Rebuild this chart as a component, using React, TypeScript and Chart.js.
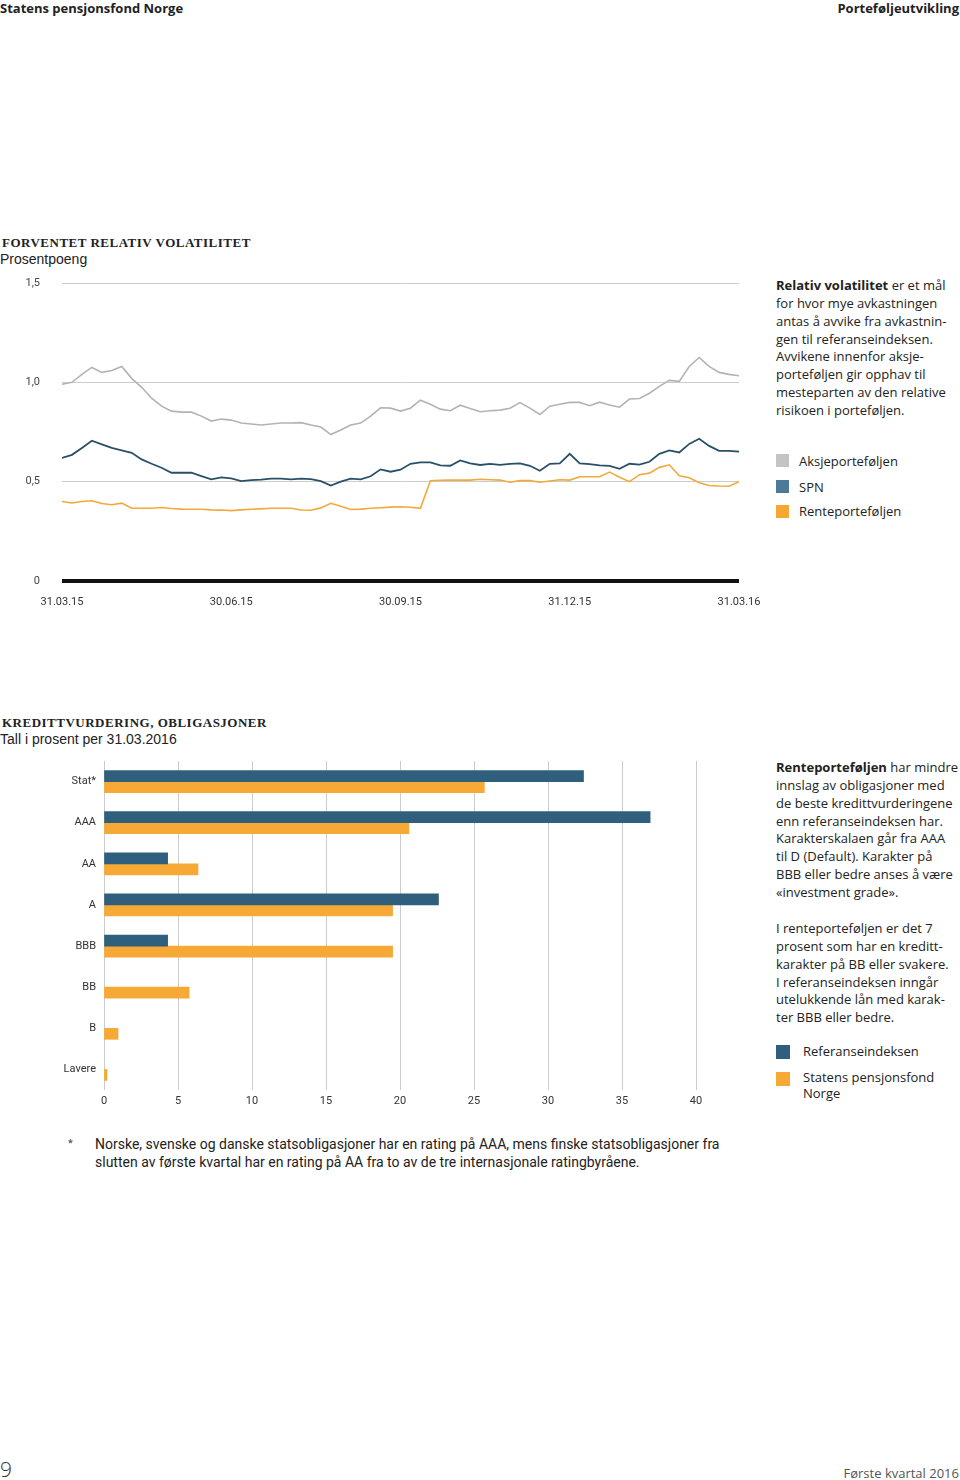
import React, { useEffect, useRef } from 'react';
import { Chart, registerables } from 'chart.js';

Chart.register(...registerables);

// ---------- Data: expected relative volatility (percentage points) ----------
const aksjeValues = [
  0.99, 1.0, 1.04, 1.075, 1.05, 1.06, 1.08, 1.02, 0.975, 0.92,
  0.88, 0.855, 0.85, 0.85, 0.83, 0.805, 0.815, 0.81, 0.795, 0.79,
  0.785, 0.79, 0.795, 0.795, 0.797, 0.785, 0.775, 0.737, 0.76, 0.785,
  0.795, 0.83, 0.872, 0.87, 0.855, 0.87, 0.91, 0.89, 0.865, 0.857,
  0.885, 0.868, 0.852, 0.857, 0.86, 0.87, 0.898, 0.87, 0.838, 0.88,
  0.89, 0.899, 0.899, 0.882, 0.9, 0.886, 0.875, 0.916, 0.919, 0.945,
  0.98, 1.01, 1.005, 1.08, 1.125, 1.08, 1.05, 1.04, 1.033,
];
const spnValues = [
  0.62, 0.635, 0.67, 0.706, 0.688, 0.67, 0.658, 0.645, 0.612, 0.59,
  0.57, 0.545, 0.545, 0.545, 0.528, 0.512, 0.522, 0.517, 0.503, 0.508,
  0.51, 0.515, 0.515, 0.512, 0.515, 0.513, 0.503, 0.48, 0.5, 0.515,
  0.512, 0.527, 0.562, 0.55, 0.56, 0.59, 0.597, 0.597, 0.582, 0.58,
  0.607, 0.592, 0.584, 0.59, 0.585, 0.59, 0.592, 0.58, 0.555, 0.59,
  0.592, 0.64, 0.592, 0.588, 0.582, 0.58, 0.565, 0.59, 0.586, 0.6,
  0.64, 0.657, 0.647, 0.69, 0.716, 0.68, 0.655, 0.655, 0.651,
];
const renteValues = [
  0.4, 0.393, 0.4, 0.404, 0.39, 0.384, 0.392, 0.366, 0.366, 0.366,
  0.37, 0.365, 0.362, 0.361, 0.361, 0.358, 0.357, 0.354, 0.358, 0.361,
  0.363, 0.366, 0.366, 0.366, 0.357, 0.356, 0.368, 0.391, 0.376, 0.36,
  0.362, 0.366, 0.369, 0.372, 0.374, 0.371, 0.366, 0.505, 0.507, 0.508,
  0.508, 0.508, 0.512, 0.51, 0.508, 0.497, 0.505, 0.505, 0.497, 0.503,
  0.51, 0.508, 0.525, 0.525, 0.525, 0.548, 0.522, 0.5, 0.535, 0.543,
  0.572, 0.585, 0.53, 0.52, 0.495, 0.481, 0.478, 0.477, 0.5,
];
const xTickIndex = [0, 17, 34, 51, 68];
const xTickLabels = ['31.03.15', '30.06.15', '30.09.15', '31.12.15', '31.03.16'];
const yTickValues = [0, 0.5, 1, 1.5];
const yTickLabels = ['0', '0,5', '1,0', '1,5'];

// ---------- Data: credit rating, bonds (percent, 31.03.2016) ----------
const ratingCategories = ['Stat*', 'AAA', 'AA', 'A', 'BBB', 'BB', 'B', 'Lavere'];
const referanseValues = [32.4, 36.9, 4.3, 22.6, 4.3, null, null, null];
const spnNorgeValues = [25.7, 20.6, 6.35, 19.5, 19.5, 5.75, 0.95, 0.2];
const barTickValues = [0, 5, 10, 15, 20, 25, 30, 35, 40];

const SANS = '"Open Sans", sans-serif';
const TICK_FONT = { family: 'Roboto', size: 11 };

function VolatilityChart() {
  const ref = useRef<HTMLCanvasElement | null>(null);
  useEffect(() => {
    if (!ref.current) return;
    const toPts = (arr: number[]) => arr.map((y, i) => ({ x: i, y }));
    const chart = new Chart(ref.current, {
      type: 'line',
      data: {
        datasets: [
          { label: 'Aksjeporteføljen', data: toPts(aksjeValues), borderColor: '#b3b3b3', borderWidth: 1.6, pointRadius: 0, tension: 0 },
          { label: 'SPN', data: toPts(spnValues), borderColor: '#2a5068', borderWidth: 1.8, pointRadius: 0, tension: 0 },
          { label: 'Renteporteføljen', data: toPts(renteValues), borderColor: '#f2a93b', borderWidth: 1.6, pointRadius: 0, tension: 0 },
        ],
      },
      options: {
        animation: false,
        responsive: false,
        layout: { padding: { top: 18, right: 31, bottom: 4, left: 0 } },
        plugins: { legend: { display: false }, tooltip: { enabled: false } },
        scales: {
          x: {
            type: 'linear',
            min: 0,
            max: 68,
            grid: { display: false, drawTicks: true, tickLength: 15 },
            border: { display: false },
            afterBuildTicks: (s: any) => { s.ticks = xTickIndex.map((v) => ({ value: v })); },
            afterFit: (s: any) => { s.height = 40; },
            ticks: {
              autoSkip: false,
              maxRotation: 0,
              padding: 0,
              font: TICK_FONT,
              color: '#333',
              callback: (v: any) => { const k = xTickIndex.indexOf(Number(v)); return k >= 0 ? xTickLabels[k] : ''; },
            },
          },
          y: {
            min: 0,
            max: 1.5,
            border: { display: false },
            afterBuildTicks: (s: any) => { s.ticks = yTickValues.map((v) => ({ value: v })); },
            afterFit: (s: any) => { s.width = 62; },
            grid: {
              drawTicks: true,
              tickLength: 22,
              tickColor: 'rgba(0,0,0,0)',
              color: (c: any) => (c.tick && c.tick.value === 0 ? '#111' : '#cccccc'),
              lineWidth: (c: any) => (c.tick && c.tick.value === 0 ? 4 : 1),
            },
            ticks: {
              padding: 0,
              font: TICK_FONT,
              color: '#444',
              callback: (v: any) => { const k = yTickValues.indexOf(Number(v)); return k >= 0 ? yTickLabels[k] : ''; },
            },
          },
        },
      },
    } as any);
    return () => chart.destroy();
  }, []);
  return <canvas ref={ref} width={770} height={360} style={{ position: 'absolute', left: 0, top: 265, width: 770, height: 360 }} />;
}

function RatingChart() {
  const ref = useRef<HTMLCanvasElement | null>(null);
  useEffect(() => {
    if (!ref.current) return;
    const chart = new Chart(ref.current, {
      type: 'bar',
      data: {
        labels: ratingCategories,
        datasets: [
          { label: 'Referanseindeksen', data: referanseValues, backgroundColor: '#2f5f7d', barThickness: 11, borderWidth: 0 },
          { label: 'Statens pensjonsfond Norge', data: spnNorgeValues, backgroundColor: '#f6a935', barThickness: 11, borderWidth: 0 },
        ],
      },
      options: {
        indexAxis: 'y',
        animation: false,
        responsive: false,
        layout: { padding: { top: 18, right: 24, bottom: 8, left: 0 } },
        plugins: { legend: { display: false }, tooltip: { enabled: false } },
        scales: {
          x: {
            min: 0,
            max: 40,
            border: { display: false },
            afterBuildTicks: (s: any) => { s.ticks = barTickValues.map((v) => ({ value: v })); },
            afterFit: (s: any) => { s.height = 25; },
            grid: { drawTicks: false, color: '#cccccc', lineWidth: 1 },
            ticks: { padding: 5, font: TICK_FONT, color: '#333', callback: (v: any) => String(v) },
          },
          y: {
            afterFit: (s: any) => { s.width = 104; },
            grid: { display: false, drawTicks: false },
            border: { display: false },
            ticks: { padding: 8, font: TICK_FONT, color: '#333' },
          },
        },
      },
    } as any);
    return () => chart.destroy();
  }, []);
  return <canvas ref={ref} width={720} height={380} style={{ position: 'absolute', left: 0, top: 743, width: 720, height: 380 }} />;
}

const abs = (left: number, top: number, extra: React.CSSProperties = {}): React.CSSProperties => ({
  position: 'absolute', left, top, whiteSpace: 'nowrap', ...extra,
});

function Lines({ left, top, lines, size = 13, lh = 17.85 }: { left: number; top: number; lines: React.ReactNode[]; size?: number; lh?: number }) {
  return (
    <div style={abs(left, top, { fontFamily: SANS, fontSize: size, lineHeight: `${lh}px`, color: '#222' })}>
      {lines.map((l, i) => <div key={i}>{l}</div>)}
    </div>
  );
}

function Square({ left, top, color, size = 13 }: { left: number; top: number; color: string; size?: number }) {
  return <div style={abs(left, top, { width: size, height: size, background: color })} />;
}

export default function App() {
  const serifTitle: React.CSSProperties = { fontFamily: '"Liberation Serif", "DejaVu Serif", serif', fontWeight: 700, fontSize: 13, letterSpacing: 0.5, color: '#222', lineHeight: '16px' };
  const subTitle: React.CSSProperties = { fontFamily: '"Liberation Sans", Arial, sans-serif', fontSize: 14, color: '#222', lineHeight: '16px' };
  const legendText: React.CSSProperties = { fontFamily: SANS, fontSize: 13, lineHeight: '18px', color: '#222' };
  return (
    <div style={{ position: 'absolute', left: 0, top: 0, width: 960, height: 1480, background: '#fff', overflow: 'hidden' }}>
      <div style={abs(0, 0, { fontFamily: SANS, fontWeight: 700, fontSize: 13, lineHeight: '16px', color: '#222' })}>Statens pensjonsfond Norge</div>
      <div style={abs(0, 0, { right: 1, left: 'auto', fontFamily: SANS, fontWeight: 700, fontSize: 13, lineHeight: '16px', color: '#222' })}>Porteføljeutvikling</div>

      <div style={abs(2, 235, serifTitle)}>FORVENTET RELATIV VOLATILITET</div>
      <div style={abs(0, 251, subTitle)}>Prosentpoeng</div>

      <VolatilityChart />

      <Lines left={776} top={277} lines={[
        <><b>Relativ volatilitet</b> er et mål</>,
        'for hvor mye avkastningen',
        'antas å avvike fra avkastnin-',
        'gen til referanseindeksen.',
        'Avvikene innenfor aksje-',
        'porteføljen gir opphav til',
        'mesteparten av den relative',
        'risikoen i porteføljen.',
      ]} />

      <Square left={776} top={454} color="#c4c4c4" />
      <div style={abs(799, 452, legendText)}>Aksjeporteføljen</div>
      <Square left={776} top={480} color="#4c7a98" />
      <div style={abs(799, 478, legendText)}>SPN</div>
      <Square left={776} top={505} color="#f7a833" />
      <div style={abs(799, 502, legendText)}>Renteporteføljen</div>

      <div style={abs(2, 715, serifTitle)}>KREDITTVURDERING, OBLIGASJONER</div>
      <div style={abs(0, 731, subTitle)}>Tall i prosent per 31.03.2016</div>

      <RatingChart />

      <Lines left={776} top={759} lines={[
        <><b>Renteporteføljen</b> har mindre</>,
        'innslag av obligasjoner med',
        'de beste kredittvurderingene',
        'enn referanseindeksen har.',
        'Karakterskalaen går fra AAA',
        'til D (Default). Karakter på',
        'BBB eller bedre anses å være',
        '«investment grade».',
      ]} />
      <Lines left={776} top={920} lines={[
        'I renteporteføljen er det 7',
        'prosent som har en kreditt-',
        'karakter på BB eller svakere.',
        'I referanseindeksen inngår',
        'utelukkende lån med karak-',
        'ter BBB eller bedre.',
      ]} />

      <Square left={776} top={1045} color="#2f5f7d" size={14} />
      <div style={abs(803, 1042, legendText)}>Referanseindeksen</div>
      <Square left={776} top={1072} color="#f6a935" size={14} />
      <div style={abs(803, 1069, { ...legendText, lineHeight: '16px' })}>Statens pensjonsfond<br />Norge</div>

      <div style={abs(68, 1137, { fontFamily: 'Roboto, sans-serif', fontSize: 11, color: '#444' })}>*</div>
      <div style={abs(95, 1135, { fontFamily: 'Roboto, sans-serif', fontSize: 14, lineHeight: '18px', color: '#222' })}>
        Norske, svenske og danske statsobligasjoner har en rating på AAA, mens finske statsobligasjoner fra<br />
        slutten av første kvartal har en rating på AA fra to av de tre internasjonale ratingbyråene.
      </div>

      <div style={abs(0, 1457, { fontFamily: SANS, fontWeight: 300, fontSize: 21, lineHeight: '24px', color: '#333' })}>9</div>
      <div style={abs(0, 1465, { left: 'auto', right: 1, fontFamily: SANS, fontSize: 13, lineHeight: '16px', color: '#555' })}>Første kvartal 2016</div>
    </div>
  );
}
